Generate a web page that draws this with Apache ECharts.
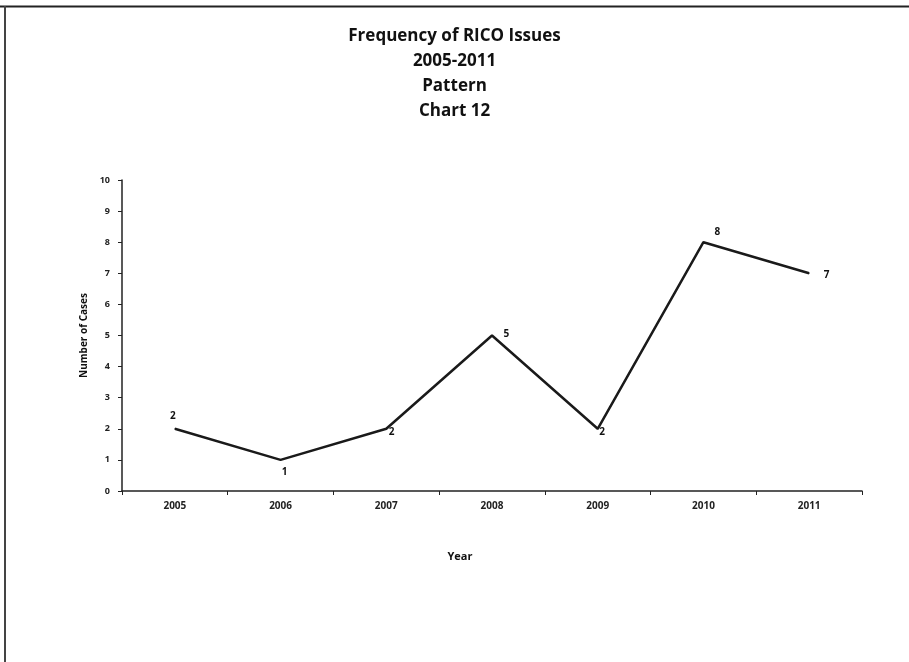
<!DOCTYPE html>
<html>
<head>
<meta charset="utf-8">
<script src="https://cdn.jsdelivr.net/npm/echarts@6/dist/echarts.min.js"></script>
<style>
  html, body { margin: 0; padding: 0; background: #fff; }
  #chart { width: 909px; height: 662px; }
</style>
</head>
<body>
<div id="chart"></div>
<script>
// RICO issue counts per year
const years = ['2005', '2006', '2007', '2008', '2009', '2010', '2011'];
const cases = [2, 1, 2, 5, 2, 8, 7];
const yTicks = { min: 0, max: 10, interval: 1 };

// label placement for each point
const labelPlacement = [
  { position: 'top', offset: [-2, -2] },
  { position: 'bottom', offset: [4, 2] },
  { position: 'right', offset: [-3, 3] },
  { position: 'right', offset: [6, -1] },
  { position: 'right', offset: [-4, 3] },
  { position: 'top', offset: [14, 0] },
  { position: 'right', offset: [9, 2] }
];

const font = '"Open Sans", "Noto Sans", sans-serif';

const chart = echarts.init(document.getElementById('chart'), null, { renderer: 'canvas' });

chart.setOption({
  backgroundColor: '#ffffff',
  animation: false,
  title: {
    text: 'Frequency of RICO Issues\n2005-2011\nPattern\nChart 12',
    left: 'center',
    top: 19,
    textStyle: {
      fontFamily: font,
      fontWeight: 'bold',
      fontSize: 17,
      lineHeight: 25,
      color: '#111'
    }
  },
  grid: { left: 122, right: 47, top: 180, bottom: 171 },
  xAxis: {
    type: 'category',
    data: years,
    boundaryGap: true,
    name: 'Year',
    nameLocation: 'middle',
    nameGap: 60,
    nameTextStyle: { fontFamily: font, fontWeight: 'bold', fontSize: 11, color: '#111', padding: [0, 64, 0, 0] },
    axisLine: { lineStyle: { color: '#222', width: 1.5 } },
    axisTick: { show: true, length: 4, lineStyle: { color: '#222' } },
    axisLabel: { fontFamily: font, fontSize: 10, color: '#222', margin: 10, fontWeight: 'bold' },
    splitLine: { show: false }
  },
  yAxis: {
    type: 'value',
    min: yTicks.min,
    max: yTicks.max,
    interval: yTicks.interval,
    name: 'Number of Cases',
    nameLocation: 'middle',
    nameGap: 26,
    nameRotate: 90,
    nameTextStyle: { fontFamily: font, fontWeight: 'bold', fontSize: 10, color: '#111' },
    axisLine: { show: true, lineStyle: { color: '#222', width: 1.5 } },
    axisTick: { show: true, length: 4, lineStyle: { color: '#222' } },
    axisLabel: { fontFamily: font, fontSize: 9, color: '#222', margin: 12, fontWeight: 'bold' },
    splitLine: { show: false }
  },
  series: [{
    type: 'line',
    data: cases.map((v, i) => ({
      value: v,
      label: {
        show: true,
        position: labelPlacement[i].position,
        offset: labelPlacement[i].offset
      }
    })),
    symbol: 'circle',
    symbolSize: 1,
    showSymbol: true,
    itemStyle: { color: '#1a1a1a' },
    lineStyle: { color: '#1a1a1a', width: 2.5 },
    label: {
      show: true,
      fontFamily: font,
      fontSize: 10,
      fontWeight: 'bold',
      color: '#111'
    }
  }],
  graphic: [
    { type: 'line', shape: { x1: 0, y1: 6.5, x2: 909, y2: 6.5 }, style: { stroke: '#222', lineWidth: 2 } },
    { type: 'line', shape: { x1: 5, y1: 6, x2: 5, y2: 662 }, style: { stroke: '#444', lineWidth: 2 } }
  ]
});
</script>
</body>
</html>
